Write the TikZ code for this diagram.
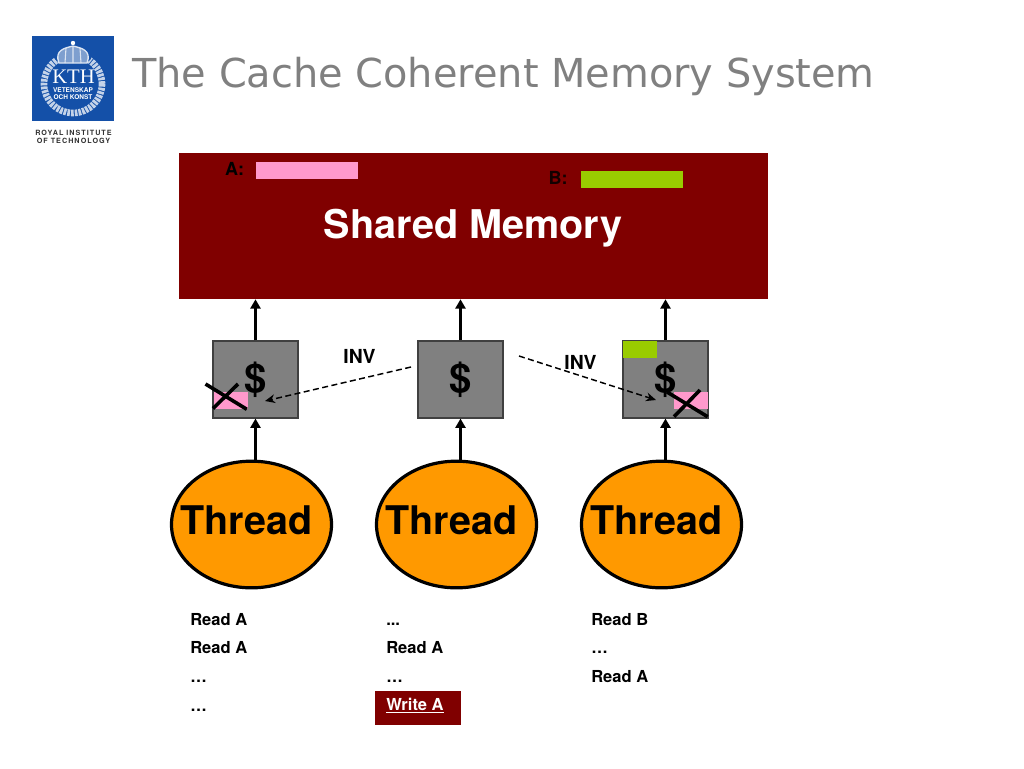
\documentclass[tikz,border=0pt]{standalone}
\usepackage{fontspec}
\setmainfont{TeX Gyre Heros}
\newfontfamily\titlefont{DejaVu Sans}
\newfontfamily\serifkth{Liberation Serif}
\usetikzlibrary{arrows.meta,shapes.geometric}
\definecolor{memred}{HTML}{800000}
\definecolor{pinkbar}{HTML}{FF99CC}
\definecolor{greenbar}{HTML}{99CC00}
\definecolor{threadorange}{HTML}{FF9900}
\definecolor{cachegray}{HTML}{808080}
\definecolor{kthblue}{HTML}{1450A8}
\definecolor{titlegray}{HTML}{808080}
\tikzset{
  cachebox/.style={draw=black!75,line width=0.8pt,fill=cachegray,minimum width=63.75pt,minimum height=57.75pt,inner sep=0pt,font=\bfseries\fontsize{30}{30}\selectfont},
  threadshape/.style={ellipse,draw=black,line width=2.4pt,fill=threadorange,minimum width=120pt,minimum height=95pt,inner sep=0pt},
  threadtext/.style={anchor=base,inner sep=0pt,font=\bfseries\fontsize{29.6}{30}\selectfont},
  flow/.style={line width=2.4pt,-{Triangle[length=7pt,width=7.5pt]}},
  inv/.style={line width=1.1pt,dash pattern=on 4.5pt off 2.6pt,-{Stealth[length=7.5pt,width=6.5pt]}},
  cross/.style={line width=2.7pt},
  listtext/.style={anchor=base west,inner sep=0pt,font=\bfseries\fontsize{12.4}{12.4}\selectfont},
  invtext/.style={anchor=base,inner sep=0pt,font=\bfseries\fontsize{14.5}{14.5}\selectfont},
  block/.style={inner sep=0pt,minimum width=#1,minimum height=12.75pt}
}
\begin{document}
\begin{tikzpicture}[x=0.75pt,y=-0.75pt]
\useasboundingbox (0,0) rectangle (1024,768);
\fill[white] (0,0) rectangle (1024,768);
% logo
\node (logo) at (73,78.5) [fill=kthblue,minimum width=61.5pt,minimum height=63.75pt,inner sep=0pt] {};
\draw[white!75!kthblue,line width=5pt,dash pattern=on 2pt off 0.8pt] (73,84) circle (29);
\fill[kthblue] (73,56) ellipse (19 and 9);
\draw[white!85!kthblue,line width=1pt,fill=white!45!kthblue] (59,63) .. controls (54,50) and (65,48) .. (73,46) .. controls (81,48) and (92,50) .. (87,63) -- cycle;
\draw[white!85!kthblue,line width=0.8pt] (73,46) -- (73,63) (66,48) -- (65,63) (80,48) -- (81,63);
\fill[white] (73,43) circle (2.2);
\node (kth) at (73.5,76.5) [text=white,inner sep=0pt,font=\serifkth\fontsize{15.5}{15.5}\selectfont] {KTH};
\node (vet) at (73,90) [text=white,inner sep=0pt,font=\bfseries\fontsize{4.9}{5}\selectfont] {VETENSKAP};
\node (och) at (73,97) [text=white,inner sep=0pt,font=\bfseries\fontsize{4.9}{5}\selectfont] {OCH KONST};
\node (royal) at (73.5,133) [text=black!80,inner sep=0pt,font=\bfseries\fontsize{5.4}{5}\selectfont] {\addfontfeature{LetterSpace=14}ROYAL INSTITUTE};
\node (oftech) at (73.5,141) [text=black!80,inner sep=0pt,font=\bfseries\fontsize{5.4}{5}\selectfont] {\addfontfeature{LetterSpace=14}OF TECHNOLOGY};
% title
\node (title) at (132,87) [anchor=base west,inner sep=0pt,text=titlegray,font=\titlefont\fontsize{29.9}{29.9}\selectfont] {The Cache Coherent Memory System};
% memory
\node (mem) at (473.5,226) [fill=memred,minimum width=441.75pt,minimum height=109.5pt,inner sep=0pt] {};
\node (memt) at (473,238.5) [anchor=base,text=white,inner sep=0pt,font=\bfseries\fontsize{29.7}{30}\selectfont] {Shared Memory};
\node (barA) at (307,170.5) [fill=pinkbar,block=76.5pt] {};
\node (barB) at (631.5,179.5) [fill=greenbar,block=76.5pt] {};
\node (lblA) at (234.5,175) [anchor=base,inner sep=0pt,font=\bfseries\fontsize{13.5}{13.5}\selectfont] {A:};
\node (lblB) at (558,184) [anchor=base,inner sep=0pt,text=black!85!memred,font=\bfseries\fontsize{13.5}{13.5}\selectfont] {B:};
% threads
\node (th1) at (251.5,524.5) [threadshape] {};
\node (th2) at (456.5,524.5) [threadshape] {};
\node (th3) at (661.5,524.5) [threadshape] {};
\node (th1t) at (246.5,534) [threadtext] {Thread};
\node (th2t) at (451.5,534) [threadtext] {Thread};
\node (th3t) at (656.5,534) [threadtext] {Thread};
% caches
\node (c1) at (255.5,379.5) [cachebox] {\$};
\node (c2) at (460.5,379.5) [cachebox] {\$};
\node (c3) at (665.5,379.5) [cachebox] {\$};
% flow arrows
\draw[flow] (c1.north) -- (c1.north |- mem.south);
\draw[flow] (c2.north) -- (c2.north |- mem.south);
\draw[flow] (c3.north) -- (c3.north |- mem.south);
\draw[flow] (c1.south |- th1.north) -- (c1.south);
\draw[flow] (c2.south |- th2.north) -- (c2.south);
\draw[flow] (c3.south |- th3.north) -- (c3.south);
% cache lines
\node (p1) at (230.5,400.5) [fill=pinkbar,inner sep=0pt,minimum width=25.5pt,minimum height=12.75pt] {};
\node (p3) at (691,400.5) [fill=pinkbar,inner sep=0pt,minimum width=25.5pt,minimum height=12.75pt] {};
\node (g3) at (640,349.5) [fill=greenbar,inner sep=0pt,minimum width=25.5pt,minimum height=12.75pt] {};
% crosses
\draw[cross] (205.5,384) -- (246.8,409.3);
\draw[cross] (213,408.5) -- (238,384);
\draw[cross] (667,392) -- (707.6,416.7);
\draw[cross] (674,416.7) -- (700,390);
% invalidations
\coordinate (i1s) at (411,367);
\coordinate (i1e) at (265,401);
\coordinate (i2s) at (519,356);
\coordinate (i2e) at (656,400);
\draw[inv] (i1s) -- (i1e);
\draw[inv] (i2s) -- (i2e);
\node (inv1) at (359.5,363) [invtext] {INV};
\node (inv2) at (580.5,369) [invtext] {INV};
% lists
\node (a1) at (190,625) [listtext] {Read A};
\node (a2) at (190,653.5) [listtext] {Read A};
\node (a3) at (190,682) [listtext] {…};
\node (a4) at (190,711) [listtext] {…};
\node (wbox) at (418,707.5) [fill=memred,draw=memred,inner sep=0pt,minimum width=63.75pt,minimum height=24.75pt] {};
\node (b1) at (386,625) [listtext] {...};
\node (b2) at (386,653.5) [listtext] {Read A};
\node (b3) at (386,682) [listtext] {…};
\node (b4) at (386,710.5) [listtext,text=white] {\underline{Write A}};
\node (d1) at (591,625) [listtext] {Read B};
\node (d2) at (591,653.5) [listtext] {…};
\node (d3) at (591,682) [listtext] {Read A};
\end{tikzpicture}
\end{document}
